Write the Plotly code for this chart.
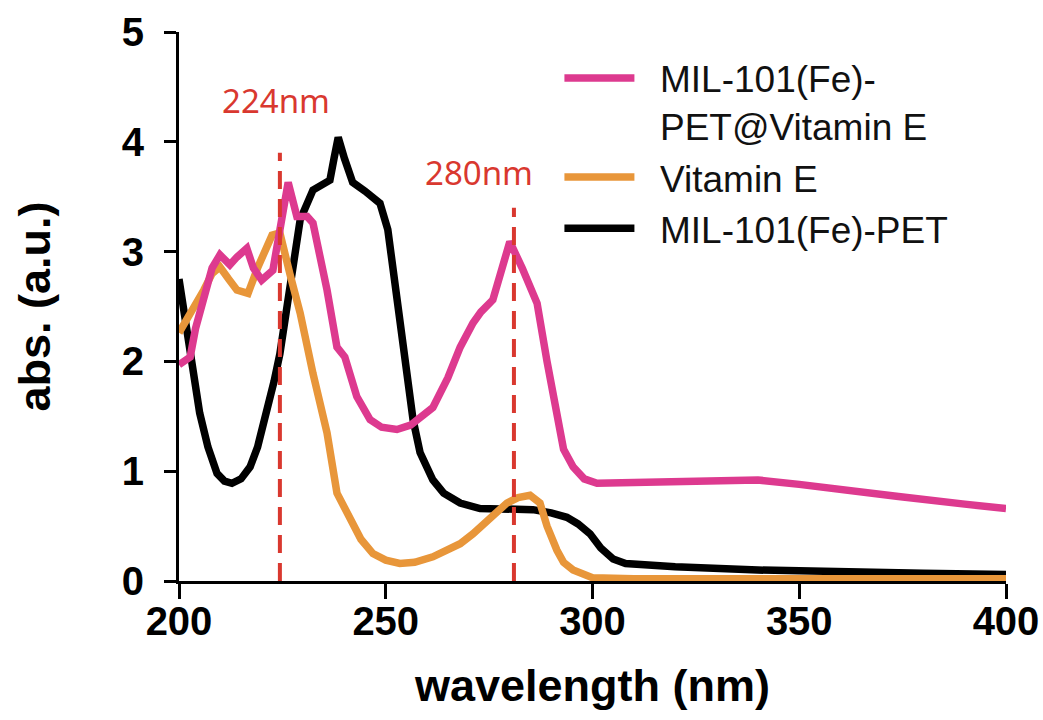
import plotly.graph_objects as go

# MIL-101(Fe)-PET (black)
black_x = [200, 202, 205, 207, 209.2, 211, 212.8, 215, 217.2, 219, 221.3, 223, 224.4, 226.8, 229.3,
           232.4, 234, 236.5, 237.5, 238.5, 240, 242, 245, 248.6, 250.5, 252, 253.4, 255, 256.6,
           258.3, 261.4, 264, 268, 272.8, 280, 285.6, 290, 293.8, 296.5, 299.4, 302, 305, 308,
           311.5, 320, 340, 360, 380, 400]
black_y = [2.75, 2.25, 1.53, 1.22, 0.98, 0.91, 0.89, 0.93, 1.04, 1.22, 1.53, 1.82, 2.07, 2.68, 3.29,
           3.56, 3.6, 3.65, 3.85, 4.04, 3.85, 3.63, 3.55, 3.44, 3.2, 2.8, 2.38, 1.9, 1.47,
           1.17, 0.92, 0.8, 0.71, 0.66, 0.65, 0.65, 0.62, 0.58, 0.52, 0.43, 0.3, 0.2, 0.16,
           0.15, 0.13, 0.1, 0.08, 0.07, 0.06]

# Vitamin E (orange)
vite_x = [200, 203.4, 206, 208, 209.9, 212, 214, 216.7, 219.1, 222.5, 224.4, 226.8, 229.3, 232.4,
          235.8, 238.2, 241.4, 244, 246.9, 250, 253.4, 257, 261.4, 265, 268, 271.1, 275, 279.3,
          282, 284.9, 287.3, 289, 291.4, 293, 295.3, 298, 300, 310, 400]
vite_y = [2.26, 2.47, 2.65, 2.8, 2.86, 2.75, 2.65, 2.62, 2.86, 3.15, 3.17, 2.8, 2.44, 1.89,
          1.35, 0.8, 0.56, 0.38, 0.25, 0.19, 0.16, 0.17, 0.22, 0.28, 0.34, 0.43, 0.57, 0.71,
          0.76, 0.78, 0.71, 0.5, 0.28, 0.17, 0.1, 0.05, 0.03, 0.02, 0.02]

# MIL-101(Fe)-PET@Vitamin E (pink)
pink_x = [200, 202.7, 204, 205.8, 208, 209.9, 212.3, 214, 216.4, 218, 220, 222.7, 224.4, 226.4,
          228.5, 231, 232.4, 234, 235.8, 238.2, 240.1, 243, 246.2, 249, 252.7, 256, 261.4, 265,
          268, 271.1, 273, 275.9, 278, 280, 283, 286.6, 289, 291.4, 293, 295.3, 298, 301.1,
          311.5, 330, 340, 350, 360, 374, 390, 400]
pink_y = [1.97, 2.04, 2.3, 2.56, 2.85, 2.97, 2.88, 2.95, 3.03, 2.85, 2.74, 2.83, 3.22, 3.63,
          3.32, 3.32, 3.26, 3.0, 2.65, 2.13, 2.04, 1.68, 1.47, 1.4, 1.38, 1.42, 1.58, 1.85,
          2.13, 2.35, 2.45, 2.56, 2.85, 3.09, 2.85, 2.53, 2.0, 1.5, 1.2, 1.04, 0.93, 0.89,
          0.9, 0.92, 0.92, 0.88, 0.83, 0.77, 0.7, 0.66]

peak_x = [224.4, 281]
peak_top = [3.9, 3.4]
peak_labels = ["224nm", "280nm"]
peak_label_x = [223.5, 272.5]
peak_label_y = [4.38, 3.72]

x_ticks = [200, 250, 300, 350, 400]
y_ticks = [0, 1, 2, 3, 4, 5]

SP = "\u00a0\u00a0"

fig = go.Figure()
fig.add_trace(go.Scatter(x=black_x, y=black_y, mode="lines", name=SP + "MIL-101(Fe)-PET",
                         line=dict(color="#000000", width=7.5)))
fig.add_trace(go.Scatter(x=vite_x, y=vite_y, mode="lines", name=SP + "Vitamin E",
                         line=dict(color="#e8963a", width=7.5)))
fig.add_trace(go.Scatter(x=pink_x, y=pink_y, mode="lines",
                         name=SP + "MIL-101(Fe)-<br>" + SP + "PET@Vitamin E",
                         line=dict(color="#dd3a8f", width=7.5)))

for px, pt, lab, lx, ly in zip(peak_x, peak_top, peak_labels, peak_label_x, peak_label_y):
    fig.add_shape(type="line", x0=px, x1=px, y0=0, y1=pt, xref="x", yref="y",
                  line=dict(color="#d9382f", width=4, dash="18px,10px"), layer="above")
    fig.add_annotation(x=lx, y=ly, text=lab, showarrow=False, xref="x", yref="y",
                       font=dict(family="Noto Sans", size=33, color="#d9382f"))

tick_font = dict(family="Liberation Sans", size=40, color="#000000", weight="bold")
title_font = dict(family="Liberation Sans", size=45, color="#000000")

fig.update_layout(
    width=1043, height=720,
    paper_bgcolor="white", plot_bgcolor="white",
    margin=dict(l=179, r=37, t=32, b=139, autoexpand=False),
    showlegend=True,
    legend=dict(x=0.46, y=0.972, xanchor="left", yanchor="top", traceorder="reversed",
                valign="top",
                font=dict(family="Liberation Sans", size=37, color="#111111"),
                bgcolor="rgba(0,0,0,0)", itemwidth=70),
    xaxis=dict(range=[200, 400], tickvals=x_ticks, showline=True, linecolor="black", linewidth=3,
               ticks="outside", ticklen=15, tickwidth=3, tickcolor="black", showgrid=False,
               zeroline=False, tickfont=tick_font, ticklabelstandoff=-12,
               title=dict(text="<b>wavelength (nm)</b>", font=title_font, standoff=28)),
    yaxis=dict(range=[0, 5], tickvals=y_ticks, showline=True, linecolor="black", linewidth=3,
               ticks="outside", ticklen=12, tickwidth=3, tickcolor="black", showgrid=False,
               zeroline=False, tickfont=tick_font, ticklabelstandoff=12,
               title=dict(text="<b>abs. (a.u.)</b>", font=title_font, standoff=58)),
)

fig.write_html("out.html", config={"displayModeBar": False},
               post_script="document.body.style.margin='0';document.body.style.overflow='hidden';")
